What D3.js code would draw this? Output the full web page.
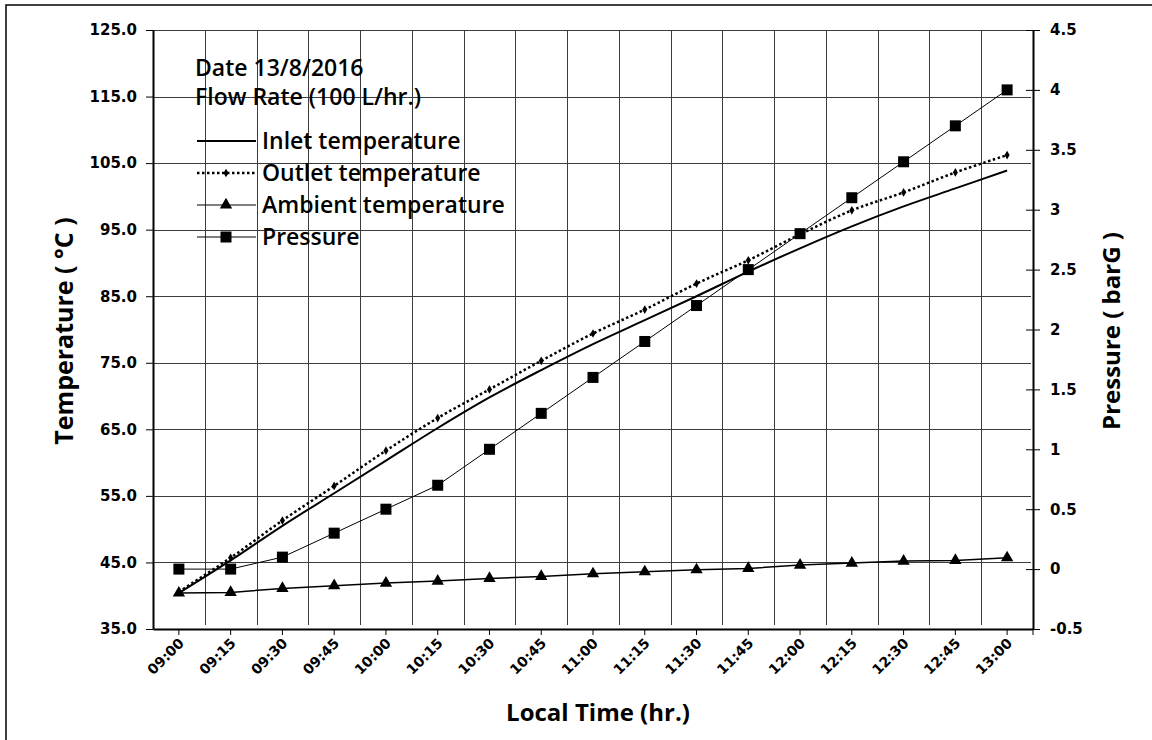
<!DOCTYPE html>
<html>
<head>
<meta charset="utf-8">
<script src="https://cdn.jsdelivr.net/npm/d3@7"></script>
<style>
    body { margin: 0; background: #fff; }
    svg { display: block; }
</style>
</head>
<body>
<svg id="chart" width="1152" height="740"></svg>
<script>
const times = ["09:00", "09:15", "09:30", "09:45", "10:00", "10:15", "10:30", "10:45", "11:00",
    "11:15", "11:30", "11:45", "12:00", "12:15", "12:30", "12:45", "13:00"]

const inletTemp = [40.4, 45.3, 50.5, 55.4, 60.3, 65.2, 69.8, 73.9, 77.8, 81.4, 85.0, 88.7, 92.2, 95.5, 98.5, 101.2, 103.9]
const outletTemp = [40.6, 45.7, 51.3, 56.5, 61.8, 66.7, 71.0, 75.3, 79.4, 83.0, 86.9, 90.4, 94.3, 97.9, 100.6, 103.6, 106.2]
const ambientTemp = [40.4, 40.5, 41.1, 41.5, 41.9, 42.2, 42.6, 42.9, 43.3, 43.6, 43.9, 44.1, 44.6, 44.9, 45.2, 45.3, 45.7]
const pressure = [0.0, 0.0, 0.1, 0.3, 0.5, 0.7, 1.0, 1.3, 1.6, 1.9, 2.2, 2.5, 2.8, 3.1, 3.4, 3.7, 4.0]

const tempTicks = [35, 45, 55, 65, 75, 85, 95, 105, 115, 125]
const pressureTicks = [-0.5, 0, 0.5, 1, 1.5, 2, 2.5, 3, 3.5, 4, 4.5]

const legendNotes = ["Date 13/8/2016", "Flow Rate (100 L/hr.)"]
const legendNames = ["Inlet temperature", "Outlet temperature", "Ambient temperature", "Pressure"]

const svg = d3.select("#chart")
const plotLeft = 153, plotRight = 1033, plotTop = 30, plotBottom = 629

const scaleX = d3.scaleBand().domain(times).range([plotLeft, plotRight])
const cx = t => scaleX(t) + scaleX.bandwidth() / 2
const scaleT = d3.scaleLinear().domain([35, 125]).range([plotBottom, plotTop])
const scaleP = d3.scaleLinear().domain([-0.5, 4.5]).range([plotBottom, plotTop])

// outer frame (partly cropped in the original)
svg.append("path")
    .attr("d", "M6,740V5H1152")
    .attr("fill", "none")
    .attr("stroke", "#000")
    .attr("stroke-width", 1.5)

// grid
const grid = svg.append("g").attr("stroke", "#3c3c3c").attr("stroke-width", 1)
grid.selectAll("line.h")
    .data(tempTicks.slice(1))
    .enter()
    .append("line")
    .attr("x1", plotLeft).attr("x2", plotRight - 2)
    .attr("y1", d => Math.round(scaleT(d)) + 0.5)
    .attr("y2", d => Math.round(scaleT(d)) + 0.5)
grid.selectAll("line.v")
    .data(times.slice(1))
    .enter()
    .append("line")
    .attr("x1", d => Math.round(scaleX(d)) + 0.5)
    .attr("x2", d => Math.round(scaleX(d)) + 0.5)
    .attr("y1", plotTop).attr("y2", plotBottom - 4)

// axes
const fontTick = "DejaVu Sans, Verdana, sans-serif"

const axisL = svg.append("g")
    .attr("transform", `translate(${plotLeft},0)`)
    .call(d3.axisLeft(scaleT).tickValues(tempTicks).tickFormat(d3.format(".1f"))
        .tickSize(7).tickSizeOuter(0).tickPadding(9))
axisL.selectAll("text")
    .style("font-family", fontTick).style("font-weight", "bold").style("font-size", "15px").attr("fill", "#000")

const axisR = svg.append("g")
    .attr("transform", `translate(${plotRight},0)`)
    .call(d3.axisRight(scaleP).tickValues(pressureTicks).tickFormat(d => String(d))
        .tickSize(7).tickSizeOuter(0).tickPadding(10))
axisR.selectAll(".tick").append("line").attr("x1", -7).attr("x2", 0).attr("stroke", "#000")
axisR.selectAll("text")
    .style("font-family", fontTick).style("font-weight", "bold").style("font-size", "15px").attr("fill", "#000")

const axisB = svg.append("g")
    .attr("transform", `translate(0,${plotBottom})`)
    .call(d3.axisBottom(scaleX).tickSize(6).tickSizeOuter(0))
axisB.selectAll("text")
    .style("font-family", fontTick).style("font-weight", "bold").style("font-size", "14px").attr("fill", "#000")
    .attr("text-anchor", "end")
    .attr("dy", 0)
    .attr("transform", "translate(6,15) rotate(-45)")
    .attr("y", 0).attr("x", 0)
axisB.append("line").attr("x1", plotRight).attr("x2", plotRight).attr("y1", 0).attr("y2", 6).attr("stroke", "#000")

svg.selectAll(".domain").attr("stroke", "#000").attr("stroke-width", 2)
svg.selectAll(".tick line").attr("stroke", "#000")

// axis titles
const fontTitle = "Open Sans, Calibri, sans-serif"
svg.append("text")
    .attr("transform", "translate(73,331) rotate(-90)")
    .attr("text-anchor", "middle")
    .style("font-family", fontTitle).style("font-weight", "bold").style("font-size", "25px")
    .text("Temperature ( \u00B0C )")
svg.append("text")
    .attr("transform", "translate(1120,331) rotate(-90)")
    .attr("text-anchor", "middle")
    .style("font-family", fontTitle).style("font-weight", "bold").style("font-size", "24px")
    .text("Pressure ( barG )")
svg.append("text")
    .attr("x", 598).attr("y", 721)
    .attr("text-anchor", "middle")
    .style("font-family", fontTitle).style("font-weight", "bold").style("font-size", "24px")
    .text("Local Time (hr.)")

// series
const drawLine = (values, scaleY, curve, width, dash) => {
    const line = d3.line()
        .curve(curve)
        .x((d, i) => cx(times[i]))
        .y(d => scaleY(d))
    svg.append("path")
        .datum(values)
        .attr("fill", "none")
        .attr("stroke", "#000")
        .attr("stroke-width", width)
        .attr("stroke-dasharray", dash)
        .attr("d", line)
}

const triangle = d3.symbol().type(d3.symbolTriangle).size(66)
const diamond = d3.symbol().type(d3.symbolDiamond).size(22)

const drawMarkers = (values, scaleY, kind) => {
    const g = svg.append("g")
    const pts = g.selectAll("g")
        .data(values)
        .enter()
        .append("g")
        .attr("transform", (d, i) => `translate(${cx(times[i])},${scaleY(d)})`)
    if (kind === "square") {
        pts.append("rect").attr("x", -5.5).attr("y", -5.5).attr("width", 11).attr("height", 11).attr("fill", "#000")
    } else if (kind === "triangle") {
        pts.append("path").attr("d", triangle).attr("fill", "#000")
    } else {
        pts.append("path").attr("d", diamond).attr("fill", "#000")
    }
}

drawLine(ambientTemp, scaleT, d3.curveLinear, 1.5, null)
drawMarkers(ambientTemp, scaleT, "triangle")
drawLine(pressure, scaleP, d3.curveLinear, 1, null)
drawMarkers(pressure, scaleP, "square")
drawLine(inletTemp, scaleT, d3.curveCatmullRom.alpha(0.5), 2, null)
drawLine(outletTemp, scaleT, d3.curveCatmullRom.alpha(0.5), 2.5, "2.5,2.5")
drawMarkers(outletTemp, scaleT, "diamond")

// legend
const fontLegend = "Open Sans, Calibri, sans-serif"
svg.selectAll("text.note")
    .data(legendNotes)
    .enter()
    .append("text")
    .attr("x", 195)
    .attr("y", (d, i) => 68 + i * 29)
    .attr("dy", "0.35em")
    .style("font-family", fontLegend).style("font-weight", 600).style("font-size", "23px")
    .text(d => d)

const legendY = i => 141 + i * 32
const leg = svg.append("g")
legendNames.forEach((name, i) => {
    const y = legendY(i)
    leg.append("line")
        .attr("x1", 197).attr("x2", 256).attr("y1", y).attr("y2", y)
        .attr("stroke", "#000")
        .attr("stroke-width", [2, 2.5, 1, 1][i])
        .attr("stroke-dasharray", i === 1 ? "2.5,2.5" : null)
    const m = leg.append("g").attr("transform", `translate(226,${y})`)
    if (i === 1) m.append("path").attr("d", diamond)
    if (i === 2) m.append("path").attr("d", triangle)
    if (i === 3) m.append("rect").attr("x", -5.5).attr("y", -5.5).attr("width", 11).attr("height", 11)
    leg.append("text")
        .attr("x", 262).attr("y", y)
        .attr("dy", "0.35em")
        .style("font-family", fontLegend).style("font-weight", 600).style("font-size", "23px")
        .text(name)
})
</script>
</body>
</html>
